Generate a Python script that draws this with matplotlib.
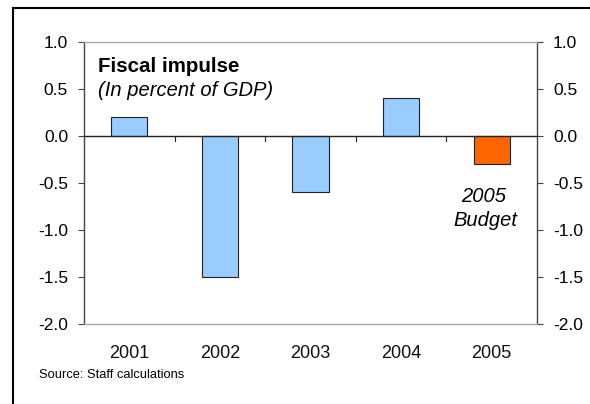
import matplotlib
matplotlib.use("Agg")
import matplotlib.pyplot as plt
from matplotlib.lines import Line2D

plt.rcParams['font.family'] = ['Liberation Sans', 'DejaVu Sans']

years = ["2001", "2002", "2003", "2004", "2005"]
values = [0.2, -1.5, -0.6, 0.4, -0.3]
colors = ["#99CCFF", "#99CCFF", "#99CCFF", "#99CCFF", "#FF6600"]
yticks = [1.0, 0.5, 0.0, -0.5, -1.0, -1.5, -2.0]

W, H = 590, 404
fig = plt.figure(figsize=(W / 100, H / 100), dpi=100)
ax = fig.add_axes([84 / W, 1 - 324 / H, (537 - 84) / W, (324 - 42) / H])

x = list(range(len(years)))
ax.bar(x, values, width=0.4, color=colors, edgecolor="#222222", linewidth=0.8, zorder=3)
ax.axhline(0, color="#222222", linewidth=1.0, zorder=4)

ax.set_xlim(-0.5, len(years) - 0.5)
ax.set_ylim(-2.0, 1.0)
ax.set_yticks(yticks)
ax.set_yticklabels([f"{v:.1f}" for v in yticks], fontsize=12.5)
ax.tick_params(axis="y", direction="out", length=4, width=0.8, color="#444444", pad=7.5,
               left=True, right=True, labelleft=True, labelright=True)

ax.set_xticks([])
# category separator ticks on the zero line
for b in [0.5, 1.5, 2.5, 3.5]:
    ax.plot([b, b], [0, -0.05], color="#222222", linewidth=0.8, zorder=4, clip_on=False)

# year labels
ylab = 1 - 353 / H
for i, yr in enumerate(years):
    xf = (84 + (i + 0.5) * (537 - 84) / len(years)) / W
    fig.text(xf, ylab, yr, ha="center", va="center", fontsize=13, color="#111111")

for side in ["top", "bottom"]:
    ax.spines[side].set_color("#AAAAAA")
    ax.spines[side].set_linewidth(1.0)
for side in ["left", "right"]:
    ax.spines[side].set_color("#444444")
    ax.spines[side].set_linewidth(1.0)

fig.text(98 / W, 1 - 66 / H, "Fiscal impulse", fontsize=14.8,
         fontweight="bold", ha="left", va="center")
fig.text(98 / W, 1 - 90 / H, "(In percent of GDP)", fontsize=14.5,
         fontstyle="italic", ha="left", va="center")
fig.text(484 / W, 1 - 197 / H, "2005", fontsize=14.5,
         fontstyle="italic", ha="center", va="center")
fig.text(485 / W, 1 - 220 / H, "Budget", fontsize=14.5,
         fontstyle="italic", ha="center", va="center")

fig.text(39 / W, 1 - 375 / H, "Source: Staff calculations", fontsize=9.3, ha="left", va="center")

# outer frame: top and left lines
fig.add_artist(Line2D([12.5 / W, 1.0], [1 - 7.5 / H, 1 - 7.5 / H], transform=fig.transFigure,
                      color="black", linewidth=1.5))
fig.add_artist(Line2D([12.5 / W, 12.5 / W], [0, 1 - 7.5 / H], transform=fig.transFigure,
                      color="black", linewidth=1.5))

fig.savefig("out.png", dpi=100, facecolor="white")
